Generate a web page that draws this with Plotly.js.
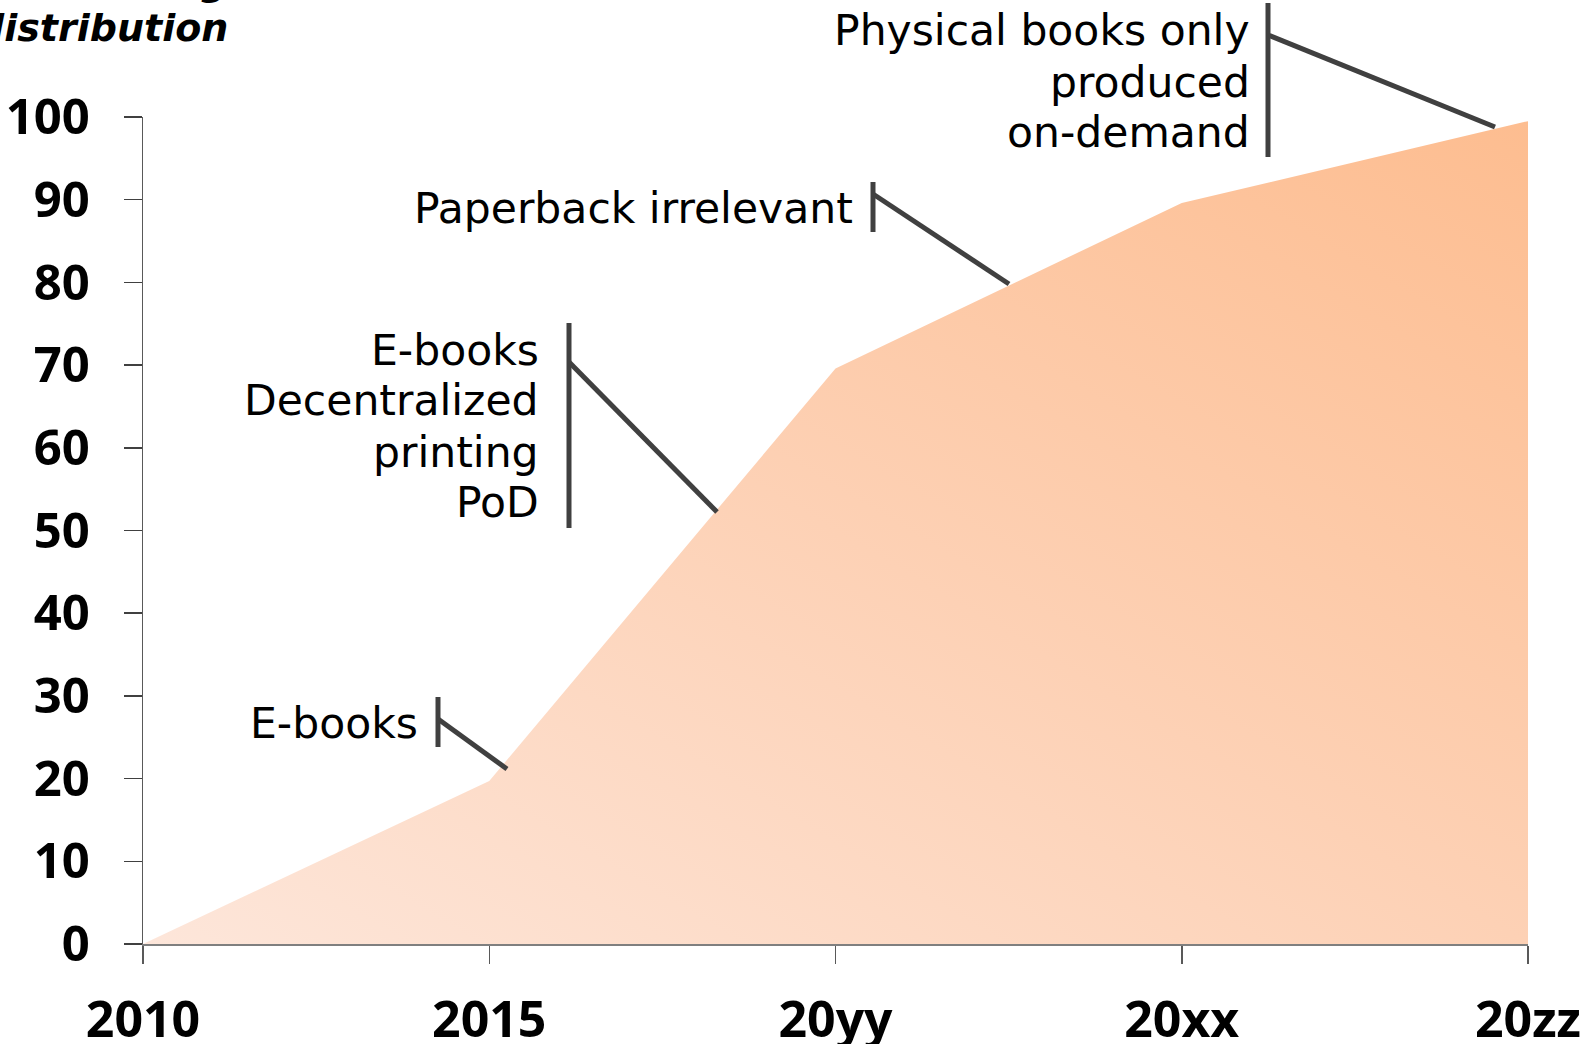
<!DOCTYPE html>
<html>
<head>
<meta charset="utf-8">
<script src="https://cdn.plot.ly/plotly-3.0.1.min.js"></script>
<style>
  html, body { margin: 0; padding: 0; background: #ffffff; }
  #chart { width: 1588px; height: 1044px; }
</style>
</head>
<body>
<div id="chart"></div>
<script>
// ---- data ----
const periods = ["2010", "2015", "20yy", "20xx", "20zz"];
const shareValues = [0, 19.7, 69.6, 89.6, 99.5];
const yTickValues = [0, 10, 20, 30, 40, 50, 60, 70, 80, 90, 100];
const titleLines = ["Printing", "distribution"];
const calloutLabels = [
  ["E-books"],
  ["E-books", "Decentralized", "printing", "PoD"],
  ["Paperback irrelevant"],
  ["Physical books only", "produced", "on-demand"]
];

// ---- layout geometry (pixels) ----
const W = 1588, H = 1044;
const L = 143, R = 1528, T = 117, B = 944;
const px = x => (x - L) / (R - L);
const py = y => (B - y) / (B - T);

// callout placements (layout only)
const calloutPlacement = [
  { right: 420, ys: [723], bar: [438, 697, 747], diag: [438, 719, 507, 769] },
  { right: 541, ys: [350, 401, 452, 503], bar: [569, 323, 528], diag: [569, 362, 717, 512] },
  { right: 855, ys: [209], bar: [873, 182, 232], diag: [873, 194, 1009, 284] },
  { right: 1252, ys: [31, 82, 133], bar: [1268, 3, 157], diag: [1268, 35, 1495, 127] }
];

const textFont = { family: "DejaVu Sans, Verdana, sans-serif", size: 42.5, color: "#000000" };
const lineStyle = { color: "#404040", width: 5 };

const annotations = [];
const shapes = [];
calloutLabels.forEach((lines, k) => {
  const p = calloutPlacement[k];
  lines.forEach((txt, j) => {
    annotations.push({
      xref: "paper", yref: "paper", x: px(p.right), y: py(p.ys[j]),
      xanchor: "right", yanchor: "middle", showarrow: false,
      text: txt, font: textFont, align: "right"
    });
  });
  shapes.push({ type: "line", xref: "paper", yref: "paper",
    x0: px(p.bar[0]), x1: px(p.bar[0]), y0: py(p.bar[1]), y1: py(p.bar[2]), line: lineStyle });
  shapes.push({ type: "line", xref: "paper", yref: "paper",
    x0: px(p.diag[0]), y0: py(p.diag[1]), x1: px(p.diag[2]), y1: py(p.diag[3]), line: lineStyle });
});

// partially visible title (cropped at top-left)
const titleFont = { family: "DejaVu Sans, Verdana, sans-serif", size: 38, color: "#000000", weight: "bold", style: "italic" };
annotations.push({ xref: "paper", yref: "paper", x: px(230), y: py(-18), xanchor: "right", yanchor: "middle",
  showarrow: false, text: titleLines[0], font: titleFont });
annotations.push({ xref: "paper", yref: "paper", x: px(230), y: py(28), xanchor: "right", yanchor: "middle",
  showarrow: false, text: titleLines[1], font: titleFont });

const xIdx = periods.map((_, i) => i);

const trace = {
  type: "scatter",
  x: xIdx,
  y: shareValues,
  mode: "none",
  fill: "tozeroy",
  fillcolor: "#FED3BA",
  fillgradient: {
    type: "horizontal",
    colorscale: [[0, "#FDE6DA"], [0.5, "#FDD1B5"], [1, "#FDBD90"]]
  },
  hoverinfo: "skip",
  showlegend: false
};

const tickFont = { family: "Open Sans, Noto Sans, sans-serif", size: 50, color: "#000000", weight: "bold" };

const layout = {
  width: W, height: H,
  margin: { l: L, r: W - R, t: T, b: H - B, pad: 0 },
  paper_bgcolor: "#ffffff",
  plot_bgcolor: "rgba(0,0,0,0)",
  showlegend: false,
  xaxis: {
    range: [0, 4], tickmode: "array", tickvals: xIdx, ticktext: periods,
    showgrid: false, zeroline: false, showline: true, linecolor: "#7f7f7f", linewidth: 1.5,
    ticks: "outside", ticklen: 18, tickwidth: 1.5, tickcolor: "#595959",
    tickfont: tickFont, ticklabelstandoff: 13, fixedrange: true
  },
  yaxis: {
    range: [0, 100], tickmode: "array", tickvals: yTickValues,
    showgrid: false, zeroline: false, showline: true, linecolor: "#595959", linewidth: 1.5,
    ticks: "outside", ticklen: 18, tickwidth: 1.5, tickcolor: "#404040",
    tickfont: { ...tickFont, size: 49 }, ticklabelstandoff: 24, fixedrange: true
  },
  annotations: annotations,
  shapes: shapes
};

Plotly.newPlot("chart", [trace], layout, { displayModeBar: false, staticPlot: true }).then(gd => {
  // turn the fill gradient into a diagonal (bottom-left light -> top-right dark)
  const grads = gd.querySelectorAll("linearGradient");
  grads.forEach(g => {
    g.setAttribute("gradientUnits", "objectBoundingBox");
    g.setAttribute("x1", "1"); g.setAttribute("y1", "0");
    g.setAttribute("x2", "0"); g.setAttribute("y2", "1");
  });
});
</script>
</body>
</html>
